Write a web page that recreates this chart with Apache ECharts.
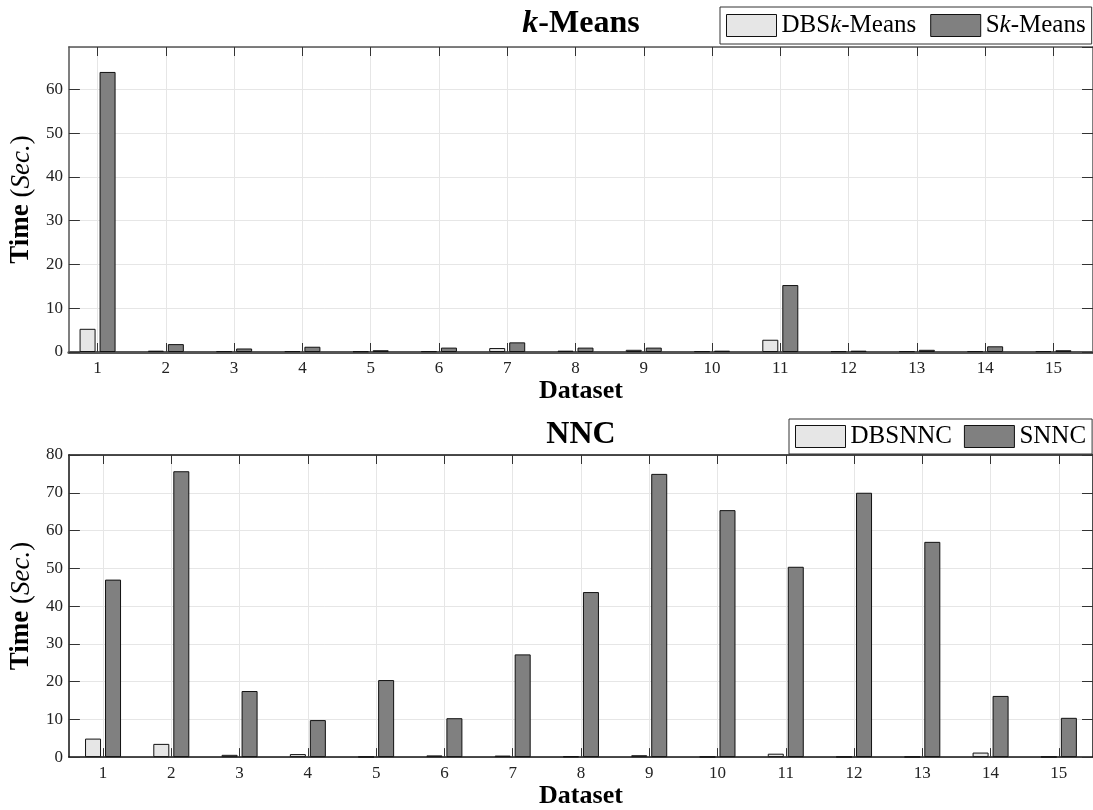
<!DOCTYPE html>
<html>
<head>
<meta charset="utf-8">
<script src="https://cdn.jsdelivr.net/npm/echarts@6/dist/echarts.min.js"></script>
<style>
  html, body { margin: 0; padding: 0; background: #fff; }
  #chart { width: 1093px; height: 810px; }
</style>
</head>
<body>
<div id="chart"></div>
<script>
// Dataset indices and their tick labels
const datasets = [1, 2, 3, 4, 5, 6, 7, 8, 9, 10, 11, 12, 13, 14, 15];
const tickLabels = ['1', '2', '3', '4', '5', '6', '7', '8', '9', '10', '11', '12', '13', '14', '15'];
const yTicksKMeans = [0, 10, 20, 30, 40, 50, 60];
const yTicksNNC = [0, 10, 20, 30, 40, 50, 60, 70, 80];

// Running time in seconds, k-Means panel
const dbsKMeans = [5.3, 0.3, 0.2, 0.2, 0.15, 0.2, 0.9, 0.3, 0.5, 0.2, 2.8, 0.2, 0.2, 0.2, 0.2];
const sKMeans   = [64.0, 1.8, 0.8, 1.2, 0.4, 1.0, 2.2, 1.0, 1.0, 0.3, 15.3, 0.3, 0.5, 1.3, 0.4];

// Running time in seconds, NNC panel
const dbsNNC = [4.9, 3.5, 0.6, 0.8, 0.1, 0.45, 0.4, 0.2, 0.5, 0.1, 0.9, 0.1, 0.1, 1.2, 0.1];
const sNNC   = [47.0, 75.7, 17.5, 9.8, 20.4, 10.3, 27.2, 43.7, 75.0, 65.4, 50.4, 70.0, 57.0, 16.2, 10.4];

const FONT = '"Liberation Serif", "DejaVu Serif", serif';
const LIGHT = '#e6e6e6';
const DARK = '#808080';

const pairs = (vals) => datasets.map((d, i) => [d, vals[i]]);

const richText = {
  b: { fontFamily: FONT, fontWeight: 'bold', fontSize: 27, color: '#000' },
  r: { fontFamily: FONT, fontWeight: 'normal', fontSize: 27, color: '#000' },
  i: { fontFamily: FONT, fontStyle: 'italic', fontWeight: 'normal', fontSize: 27, color: '#000' }
};

function xAxes(gridIndex, min, max, axisColor, baseWidth, nameGap) {
  return [
    {
      gridIndex, type: 'value', position: 'bottom', min, max,
      axisLine: { show: true, onZero: false, lineStyle: { color: axisColor, width: baseWidth } },
      axisTick: { show: true, inside: true, length: 9, customValues: datasets, lineStyle: { color: '#333', width: 1 } },
      axisLabel: { customValues: datasets, formatter: v => tickLabels[datasets.indexOf(v)] || '',
                   fontFamily: FONT, fontSize: 17, color: '#222', margin: 8 },
      splitLine: { show: true, lineStyle: { color: '#e6e6e6', width: 1 } },
      name: 'Dataset', nameLocation: 'middle', nameGap,
      nameTextStyle: { fontFamily: FONT, fontWeight: 'bold', fontSize: 26, color: '#000' }
    },
    {
      gridIndex, type: 'value', position: 'top', min, max,
      axisLine: { show: true, onZero: false, lineStyle: { color: axisColor, width: 1.5 } },
      axisTick: { show: true, inside: true, length: 9, customValues: datasets, lineStyle: { color: '#333', width: 1 } },
      axisLabel: { show: false },
      splitLine: { show: false }
    }
  ];
}

function yAxes(gridIndex, max, axisColor) {
  return [
    {
      gridIndex, type: 'value', position: 'left', min: 0, max, interval: 10,
      axisLine: { show: true, onZero: false, lineStyle: { color: axisColor, width: 1.5 } },
      axisTick: { show: true, inside: true, length: 11, lineStyle: { color: '#333', width: 1 } },
      axisLabel: { showMaxLabel: Number.isInteger(max / 10), fontFamily: FONT, fontSize: 17, color: '#222', margin: 6 },
      splitLine: { show: true, lineStyle: { color: '#e6e6e6', width: 1 } },
      name: '{b|Time}{r| (}{i|Sec.}{r|)}', nameLocation: 'middle', nameGap: 29, nameRotate: 90,
      nameTextStyle: { rich: richText }
    },
    {
      gridIndex, type: 'value', position: 'right', min: 0, max, interval: 10,
      axisLine: { show: true, onZero: false, lineStyle: { color: axisColor, width: 1.5 } },
      axisTick: { show: true, inside: true, length: 11, lineStyle: { color: '#333', width: 1 } },
      axisLabel: { show: false },
      splitLine: { show: false }
    }
  ];
}

function barSeries(name, data, color, xi, yi) {
  return {
    name, type: 'bar', xAxisIndex: xi, yAxisIndex: yi,
    data: pairs(data), barWidth: 16, barGap: '25%',
    itemStyle: { color, borderColor: '#111', borderWidth: 1 },
    emphasis: { disabled: true }
  };
}

const legendRich = {
  n: { fontFamily: FONT, fontSize: 25, lineHeight: 24, color: '#000' },
  i: { fontFamily: FONT, fontSize: 25, lineHeight: 24, fontStyle: 'italic', color: '#000' }
};
const legendText = {
  'DBSk-Means': '{n|DBS}{i|k}{n|-Means}',
  'Sk-Means': '{n|S}{i|k}{n|-Means}',
  'DBSNNC': '{n|DBSNNC}',
  'SNNC': '{n|SNNC}'
};

const chart = echarts.init(document.getElementById('chart'), null, { renderer: 'canvas' });
chart.setOption({
  animation: false,
  backgroundColor: '#fff',
  title: [
    {
      text: '{i|k}{b|-Means}', left: 576, top: 3, textAlign: 'center',
      textStyle: { rich: {
        i: { fontFamily: FONT, fontStyle: 'italic', fontSize: 32, color: '#000' },
        b: { fontFamily: FONT, fontWeight: 'bold', fontSize: 32, color: '#000' }
      } }
    },
    {
      text: 'NNC', left: 576, top: 414, textAlign: 'center',
      textStyle: { fontFamily: FONT, fontWeight: 'bold', fontSize: 32, color: '#000' }
    }
  ],
  legend: [
    {
      data: ['DBSk-Means', 'Sk-Means'], left: 720, top: 7, width: 400, icon: 'rect',
      orient: 'horizontal', itemWidth: 50, itemHeight: 22, itemGap: 14,
      padding: [6, 6, 6, 6], borderColor: '#333', borderWidth: 1,
      backgroundColor: '#fff', selectedMode: false,
      itemStyle: { borderColor: '#111', borderWidth: 1 },
      formatter: n => legendText[n], textStyle: { rich: legendRich }
    },
    {
      data: ['DBSNNC', 'SNNC'], left: 789, top: 419, width: 400, icon: 'rect',
      orient: 'horizontal', itemWidth: 50, itemHeight: 22, itemGap: 12,
      padding: [5, 6, 5, 6], borderColor: '#333', borderWidth: 1,
      backgroundColor: '#fff', selectedMode: false,
      itemStyle: { borderColor: '#111', borderWidth: 1 },
      formatter: n => legendText[n], textStyle: { rich: legendRich }
    }
  ],
  grid: [
    { left: 67, right: -2, top: 47, height: 305 },
    { left: 67, right: -2, top: 455, height: 306 }
  ],
  xAxis: [
    ...xAxes(0, 0.58, 15.58, '#555', 3, 17),
    ...xAxes(1, 0.5, 15.5, '#111', 1.5, 23)
  ],
  yAxis: [
    ...yAxes(0, 69.7, '#555'),
    ...yAxes(1, 80, '#111')
  ],
  series: [
    barSeries('DBSk-Means', dbsKMeans, LIGHT, 0, 0),
    barSeries('Sk-Means', sKMeans, DARK, 0, 0),
    barSeries('DBSNNC', dbsNNC, LIGHT, 2, 2),
    barSeries('SNNC', sNNC, DARK, 2, 2)
  ]
});
</script>
</body>
</html>
